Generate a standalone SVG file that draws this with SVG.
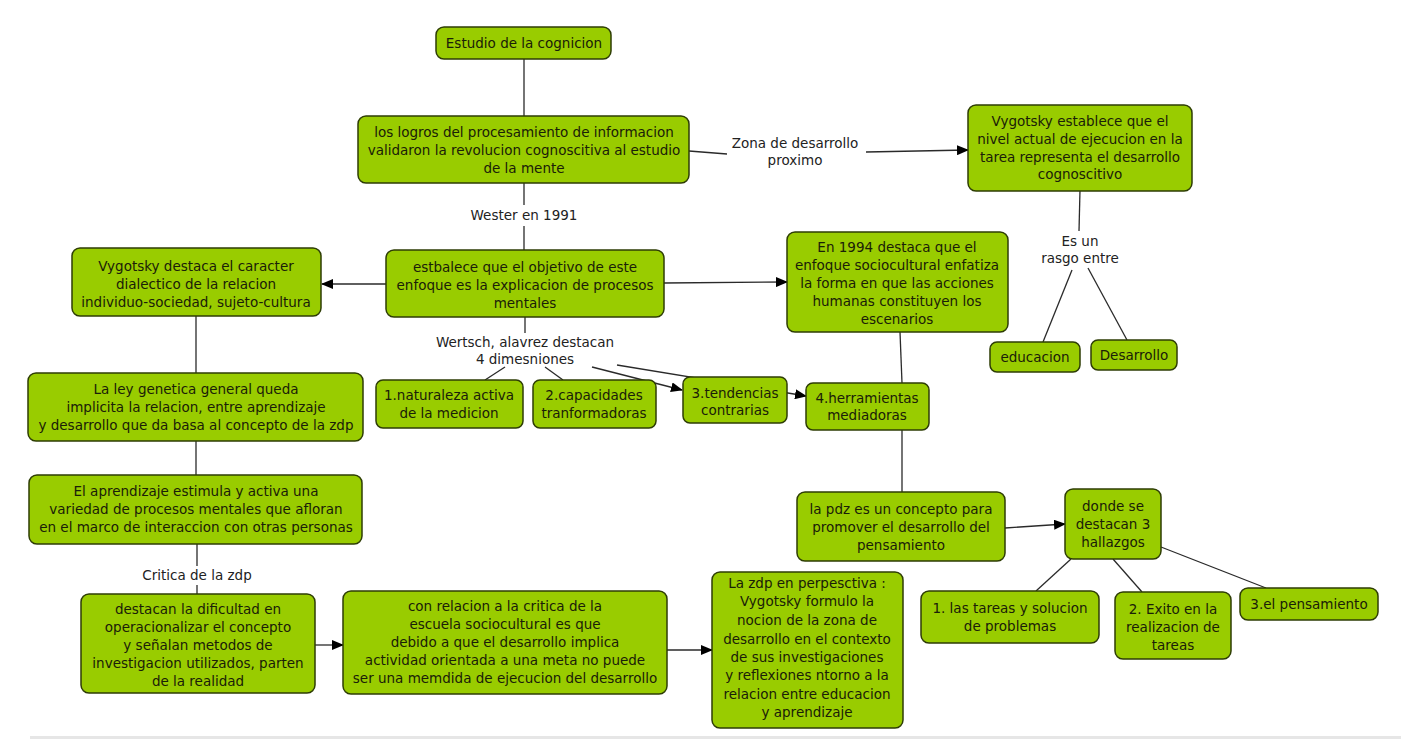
<svg xmlns="http://www.w3.org/2000/svg" width="1401" height="739" viewBox="0 0 1401 739">
<defs>
<style>
.n rect{fill:#99cc00;stroke:#2e3d05;stroke-width:1.5}
.n text,.lb{font-family:"DejaVu Sans",Verdana,sans-serif;font-size:13.5px;fill:#1a2008;text-anchor:middle}
.lb{fill:#222}
.c line,.c path{stroke:#2a2a2a;stroke-width:1.3;fill:none}
.a{marker-end:url(#ah)}
</style>
<marker id="ah" viewBox="0 0 12 10" refX="11" refY="5" markerWidth="12" markerHeight="10" markerUnits="userSpaceOnUse" orient="auto">
<path d="M0,0 L12,5 L0,10 z" fill="#000"/>
</marker>
</defs>
<rect width="1401" height="739" fill="#ffffff"/>
<rect x="30" y="736" width="1371" height="3" fill="#e6e6e6"/>
<g class="c">
<line x1="524" y1="59" x2="524" y2="116"/>
<line x1="689" y1="151" x2="727" y2="154"/>
<line class="a" x1="866" y1="152" x2="968" y2="150"/>
<line x1="524" y1="183" x2="524" y2="205"/>
<line x1="524" y1="226" x2="524" y2="250"/>
<line class="a" x1="386" y1="284" x2="322" y2="284"/>
<line class="a" x1="664" y1="283" x2="787" y2="282"/>
<line x1="525" y1="317" x2="525" y2="333"/>
<line x1="505" y1="367" x2="485" y2="380"/>
<line x1="545" y1="367" x2="563" y2="380"/>
<line class="a" x1="592" y1="367" x2="682" y2="390"/>
<line class="a" x1="617" y1="365" x2="806" y2="396"/>
<line x1="900" y1="332" x2="902" y2="383"/>
<line x1="902" y1="430" x2="902" y2="492"/>
<line class="a" x1="1005" y1="528" x2="1065" y2="524"/>
<line x1="1071" y1="559" x2="1036" y2="591"/>
<line x1="1113" y1="559" x2="1142" y2="592"/>
<line x1="1161" y1="547" x2="1266" y2="588"/>
<line x1="1080" y1="190" x2="1079" y2="231"/>
<line x1="1072" y1="270" x2="1043" y2="342"/>
<line x1="1088" y1="268" x2="1127" y2="340"/>
<line x1="196" y1="316" x2="196" y2="373"/>
<line x1="196" y1="441" x2="196" y2="475"/>
<line x1="197" y1="544" x2="197" y2="566"/>
<line x1="197" y1="585" x2="197" y2="594"/>
<line class="a" x1="315" y1="645" x2="343" y2="645"/>
<line class="a" x1="667" y1="650" x2="712" y2="650"/>
<text class="lb" x="795" y="147.5">Zona de desarrollo</text>
<text class="lb" x="795" y="164.5">proximo</text>
<text class="lb" x="524" y="219.5">Wester en 1991</text>
<text class="lb" x="525" y="346.5">Wertsch, alavrez destacan</text>
<text class="lb" x="525" y="363.5">4 dimesniones</text>
<text class="lb" x="1080" y="245.5">Es un</text>
<text class="lb" x="1080" y="262.5">rasgo entre</text>
<text class="lb" x="197" y="579.5">Critica de la zdp</text>
</g>
<g class="n" id="n1"><rect x="436" y="27" width="175" height="32" rx="8"/><text x="524" y="47.5">Estudio de la cognicion</text></g>
<g class="n" id="n2"><rect x="358" y="116" width="331" height="67" rx="8"/><text x="524" y="136.5">los logros del procesamiento de informacion</text><text x="524" y="154.5">validaron la revolucion cognoscitiva al estudio</text><text x="524" y="172.5">de la mente</text></g>
<g class="n" id="n3"><rect x="968" y="105" width="224" height="86" rx="8"/><text x="1080" y="125.5">Vygotsky establece que el</text><text x="1080" y="143.5">nivel actual de ejecucion en la</text><text x="1080" y="161.5">tarea representa el desarrollo</text><text x="1080" y="178.5">cognoscitivo</text></g>
<g class="n" id="n4"><rect x="386" y="250" width="278" height="67" rx="8"/><text x="525" y="271.5">estbalece que el objetivo de este</text><text x="525" y="289.5">enfoque es la explicacion de procesos</text><text x="525" y="307.5">mentales</text></g>
<g class="n" id="n5"><rect x="72" y="248" width="249" height="68" rx="8"/><text x="196" y="270.5">Vygotsky destaca el caracter</text><text x="196" y="288.5">dialectico de la relacion</text><text x="196" y="306.5">individuo-sociedad, sujeto-cultura</text></g>
<g class="n" id="n6"><rect x="787" y="232" width="221" height="100" rx="8"/><text x="897" y="251.5">En 1994 destaca que el</text><text x="897" y="269.5">enfoque sociocultural enfatiza</text><text x="897" y="287.5">la forma en que las acciones</text><text x="897" y="305.5">humanas constituyen los</text><text x="897" y="323.5">escenarios</text></g>
<g class="n" id="n7"><rect x="990" y="342" width="90" height="30" rx="7"/><text x="1035" y="361.5">educacion</text></g>
<g class="n" id="n8"><rect x="1091" y="340" width="86" height="30" rx="7"/><text x="1134" y="359.5">Desarrollo</text></g>
<g class="n" id="n9"><rect x="28" y="373" width="335" height="68" rx="8"/><text x="196" y="393.5">La ley genetica general queda</text><text x="196" y="411.5">implicita la relacion, entre aprendizaje</text><text x="196" y="429.5">y desarrollo que da basa al concepto de la zdp</text></g>
<g class="n" id="n10"><rect x="376" y="380" width="147" height="48" rx="7"/><text x="449" y="399.5">1.naturaleza activa</text><text x="449" y="417.5">de la medicion</text></g>
<g class="n" id="n11"><rect x="533" y="380" width="123" height="48" rx="7"/><text x="594" y="399.5">2.capacidades</text><text x="594" y="417.5">tranformadoras</text></g>
<g class="n" id="n12"><rect x="683" y="377" width="104" height="46" rx="7"/><text x="735" y="397.5">3.tendencias</text><text x="735" y="414.5">contrarias</text></g>
<g class="n" id="n13"><rect x="806" y="383" width="123" height="47" rx="7"/><text x="867" y="402.5">4.herramientas</text><text x="867" y="419.5">mediadoras</text></g>
<g class="n" id="n14"><rect x="29" y="475" width="333" height="69" rx="8"/><text x="196" y="495.5">El aprendizaje estimula y activa una</text><text x="196" y="513.5">variedad de procesos mentales que afloran</text><text x="196" y="531.5">en el marco de interaccion con otras personas</text></g>
<g class="n" id="n15"><rect x="797" y="492" width="208" height="69" rx="8"/><text x="901" y="513.5">la pdz es un concepto para</text><text x="901" y="531.5">promover el desarrollo del</text><text x="901" y="549.5">pensamiento</text></g>
<g class="n" id="n16"><rect x="1065" y="489" width="96" height="70" rx="8"/><text x="1113" y="510.5">donde se</text><text x="1113" y="528.5">destacan 3</text><text x="1113" y="546.5">hallazgos</text></g>
<g class="n" id="n17"><rect x="81" y="594" width="234" height="99" rx="8"/><text x="198" y="613.5">destacan la dificultad en</text><text x="198" y="631.5">operacionalizar el concepto</text><text x="198" y="649.5">y señalan metodos de</text><text x="198" y="667.5">investigacion utilizados, parten</text><text x="198" y="685.5">de la realidad</text></g>
<g class="n" id="n18"><rect x="343" y="591" width="324" height="103" rx="8"/><text x="505" y="610.5">con relacion a la critica de la</text><text x="505" y="628.5">escuela sociocultural es que</text><text x="505" y="646.5">debido a que el desarrollo implica</text><text x="505" y="664.5">actividad orientada a una meta no puede</text><text x="505" y="682.5">ser una memdida de ejecucion del desarrollo</text></g>
<g class="n" id="n19"><rect x="712" y="572" width="191" height="156" rx="8"/><text x="807" y="587.5">La zdp en perpesctiva :</text><text x="807" y="605.5">Vygotsky formulo la</text><text x="807" y="624.5">nocion de la zona de</text><text x="807" y="643.5">desarrollo en el contexto</text><text x="807" y="661.5">de sus investigaciones</text><text x="807" y="679.5">y reflexiones ntorno a la</text><text x="807" y="698.5">relacion entre educacion</text><text x="807" y="716.5">y aprendizaje</text></g>
<g class="n" id="n20"><rect x="921" y="591" width="178" height="52" rx="8"/><text x="1010" y="612.5">1. las tareas y solucion</text><text x="1010" y="630.5">de problemas</text></g>
<g class="n" id="n21"><rect x="1115" y="592" width="116" height="67" rx="8"/><text x="1173" y="613.5">2. Exito en la</text><text x="1173" y="631.5">realizacion de</text><text x="1173" y="649.5">tareas</text></g>
<g class="n" id="n22"><rect x="1240" y="588" width="138" height="32" rx="8"/><text x="1309" y="608.5">3.el pensamiento</text></g>
</svg>
